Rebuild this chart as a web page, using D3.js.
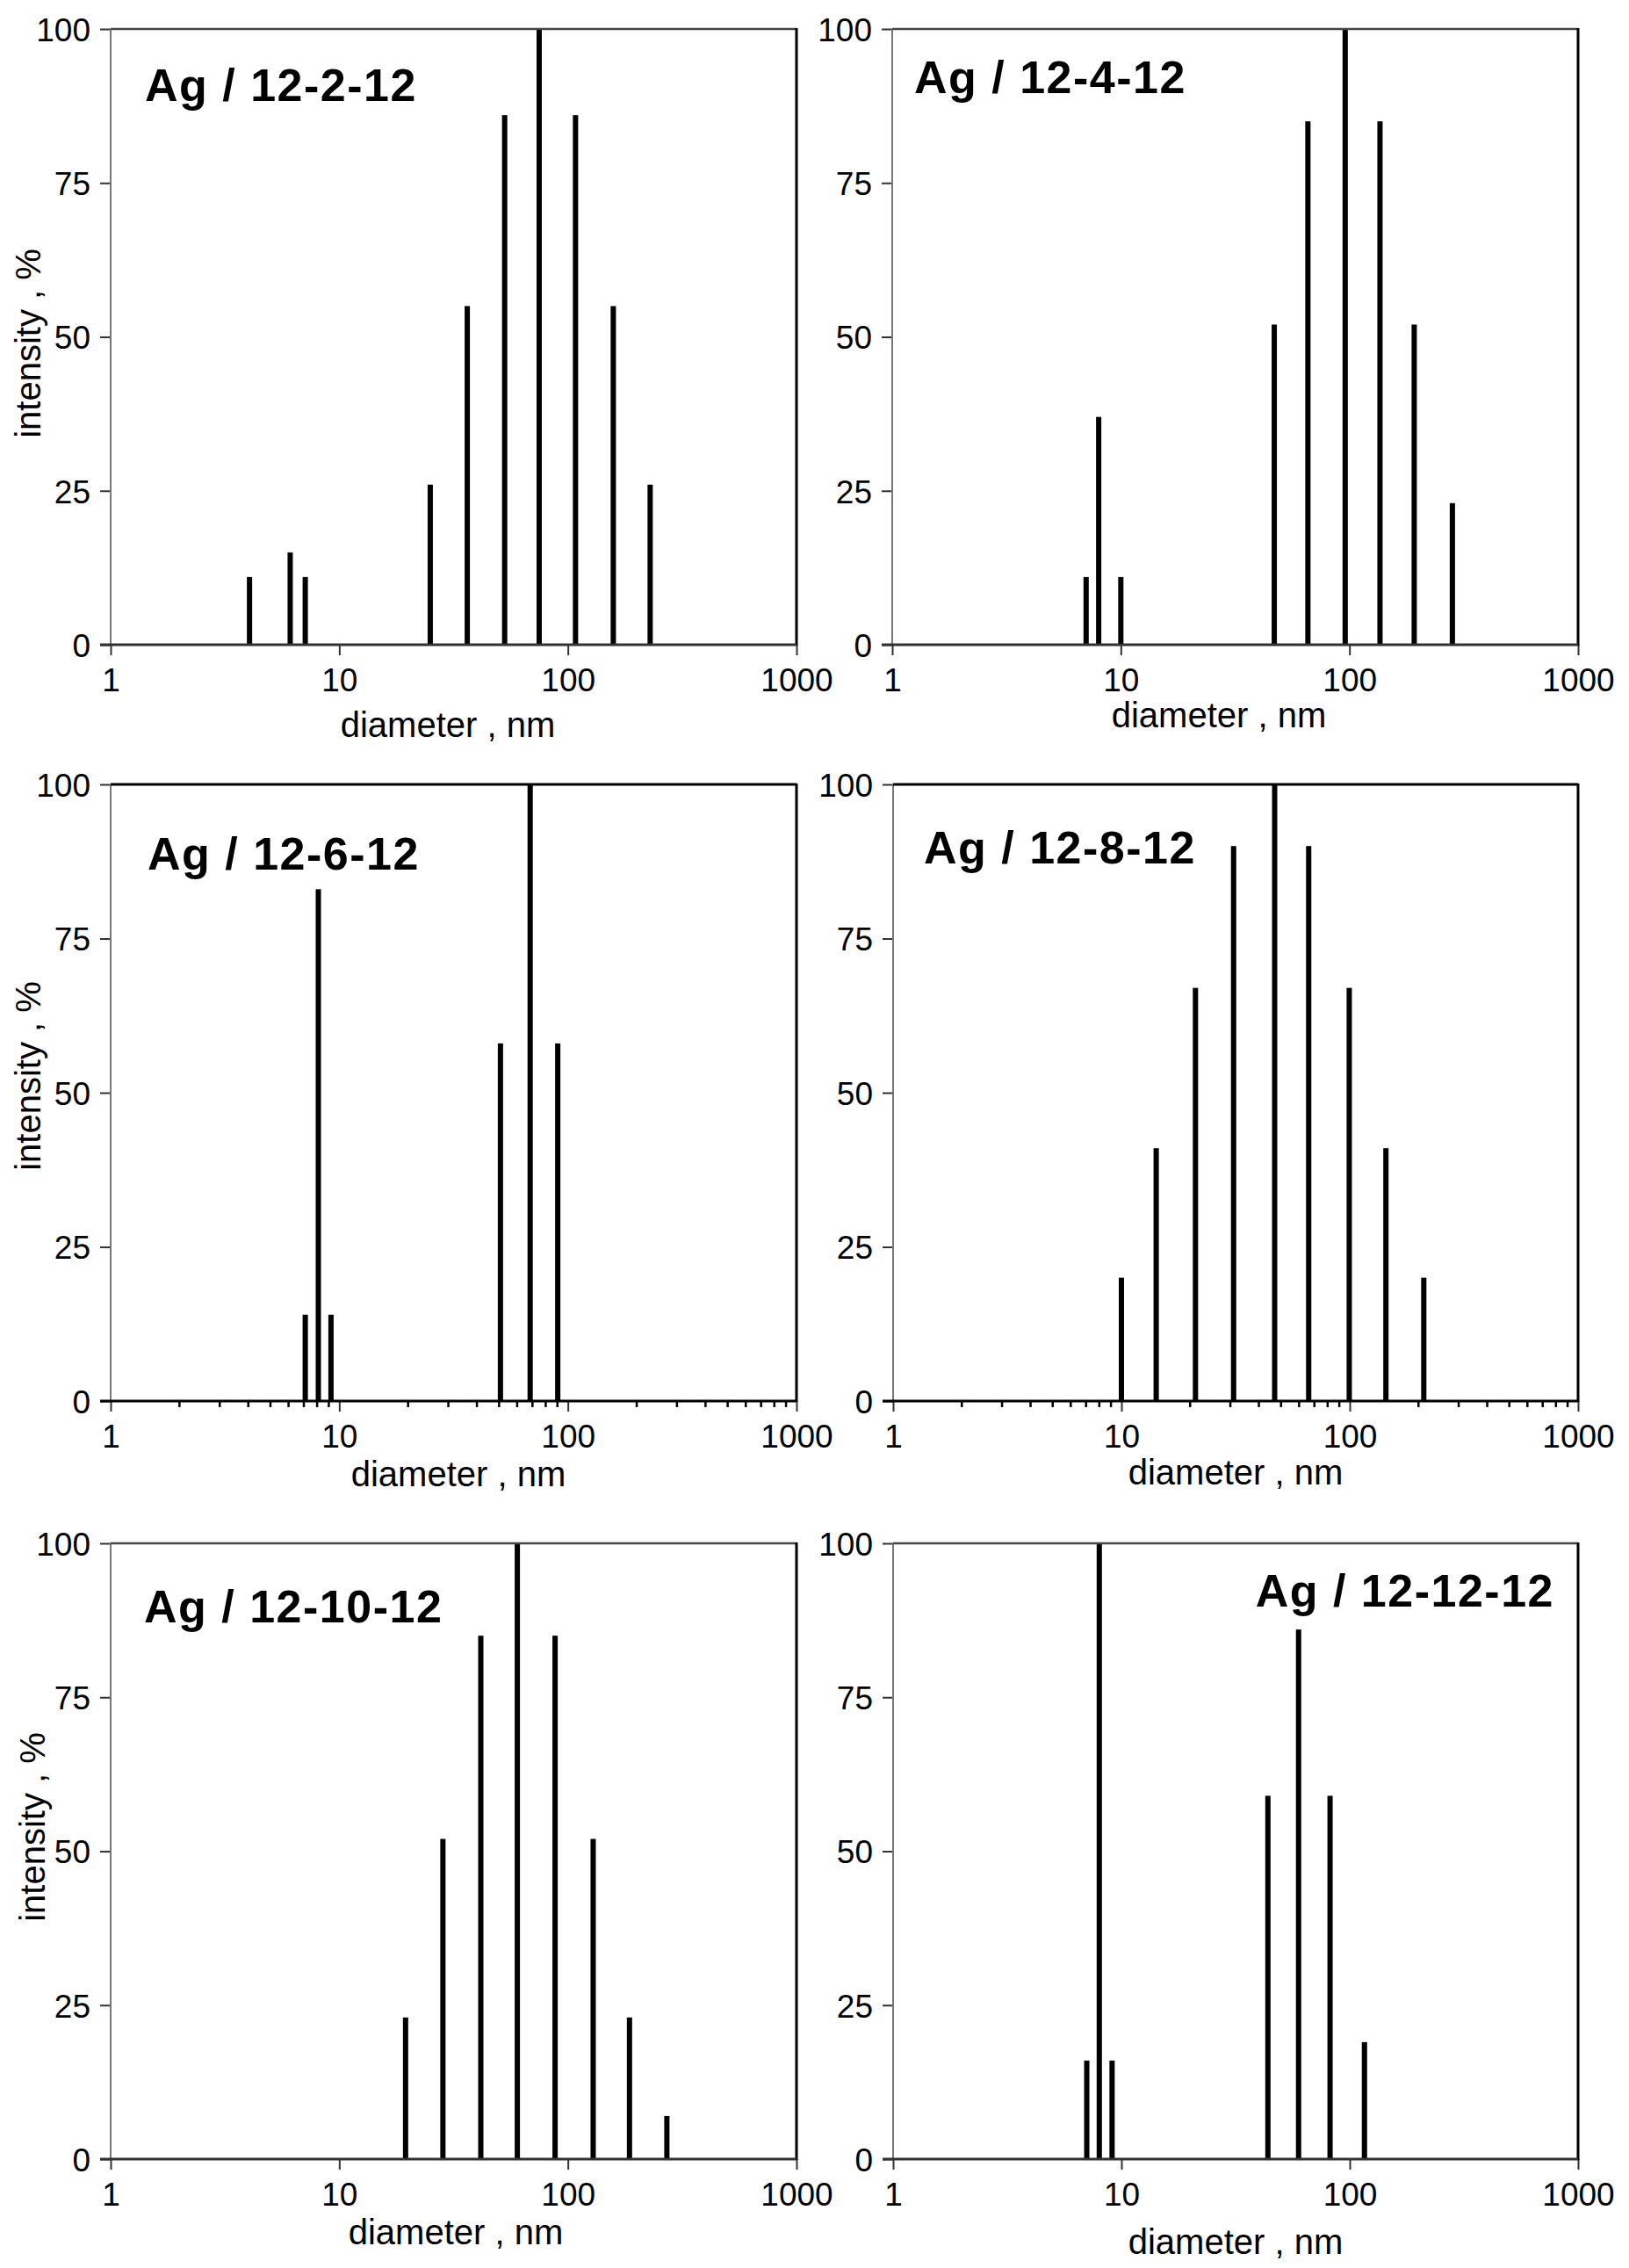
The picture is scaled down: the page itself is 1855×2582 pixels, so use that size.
<!DOCTYPE html>
<html>
<head>
<meta charset="utf-8">
<script src="https://cdn.jsdelivr.net/npm/d3@7"></script>
<style>
	body { margin: 0; background: #fff; }
	text { font-family: "Liberation Sans", Arial, sans-serif; fill: #000; }
</style>
</head>
<body>
<div id="chart-area"></div>
<script>
// Data: diameter (nm) and intensity (%) for each sample
const titles = ["Ag / 12-2-12", "Ag / 12-4-12", "Ag / 12-6-12", "Ag / 12-8-12", "Ag / 12-10-12", "Ag / 12-12-12"]

const diam_12_2_12 = [4.05, 6.1, 7.1, 25, 36.3, 52.9, 74.9, 108, 158, 229]
const int_12_2_12 = [11, 15, 11, 26, 55, 86, 100, 86, 55, 26]

const diam_12_4_12 = [7.05, 8, 10, 46.9, 65.8, 95.8, 136, 192, 282]
const int_12_4_12 = [11, 37, 11, 52, 85, 100, 85, 52, 23]

const diam_12_6_12 = [7.1, 8.1, 9.2, 50.7, 68.4, 90.3]
const int_12_6_12 = [14, 83, 14, 58, 100, 58]

const diam_12_8_12 = [10, 14.2, 21.1, 31, 46.9, 66.1, 99.5, 144, 211]
const int_12_8_12 = [20, 41, 67, 90, 100, 90, 67, 41, 20]

const diam_12_10_12 = [19.5, 28.4, 41.6, 60.1, 87.9, 129, 186, 271]
const int_12_10_12 = [23, 52, 85, 100, 85, 52, 23, 7]

const diam_12_12_12 = [7.05, 8, 9.1, 43.8, 59.7, 82, 116]
const int_12_12_12 = [16, 100, 16, 59, 86, 59, 19]

const xTicks = [1, 10, 100, 1000]
const yTicks = [0, 25, 50, 75, 100]
const xTitle = "diameter , nm"
const yTitle = "intensity , %"

// Layout of the six panels (plot rectangles in page pixels)
const panels = [
	{ diam: diam_12_2_12, int: int_12_2_12, l: 126, r: 907, t: 33, b: 734, tx: 165, ty: 115, anchor: "start", xl: [510, 839], yl: [32, 391], minor: false },
	{ diam: diam_12_4_12, int: int_12_4_12, l: 1016, r: 1797, t: 33, b: 734, tx: 1041, ty: 106, anchor: "start", xl: [1388, 828], yl: null, minor: false },
	{ diam: diam_12_6_12, int: int_12_6_12, l: 126, r: 907, t: 893, b: 1595, tx: 168, ty: 990, anchor: "start", xl: [522, 1692], yl: [32, 1225], minor: true },
	{ diam: diam_12_8_12, int: int_12_8_12, l: 1017, r: 1797, t: 893, b: 1595, tx: 1052, ty: 983, anchor: "start", xl: [1407, 1690], yl: null, minor: true },
	{ diam: diam_12_10_12, int: int_12_10_12, l: 126, r: 907, t: 1757, b: 2458, tx: 164, ty: 1847, anchor: "start", xl: [519, 2555], yl: [37, 2080], minor: false },
	{ diam: diam_12_12_12, int: int_12_12_12, l: 1017, r: 1797, t: 1757, b: 2458, tx: 1770, ty: 1829, anchor: "end", xl: [1407, 2566], yl: null, minor: false }
]

const width = 1855, height = 2582

const svg = d3.select("#chart-area")
	.append("svg")
	.attr("width", width)
	.attr("height", height)

panels.forEach((p, i) => {
	const g = svg.append("g")

	// Scales
	const x = d3.scaleLog().domain([1, 1000]).range([p.l, p.r])
	const y = d3.scaleLinear().domain([0, 100]).range([p.b, p.t])

	// Bars
	const data = p.diam.map((d, j) => ({ d: d, v: p.int[j] }))
	g.selectAll("rect.bar")
		.data(data)
		.enter().append("rect")
		.attr("class", "bar")
		.attr("x", d => x(d.d) - 3)
		.attr("y", d => y(d.v))
		.attr("width", 6)
		.attr("height", d => y(0) - y(d.v))
		.attr("fill", "#000")

	// Axes
	const xAxisCall = d3.axisBottom(x)
		.tickValues(xTicks)
		.tickFormat(d3.format("d"))
		.tickSize(12)
		.tickPadding(15)
	const xAxis = g.append("g")
		.attr("transform", `translate(0, ${p.b})`)
		.call(xAxisCall)

	const yAxisCall = d3.axisLeft(y)
		.tickValues(yTicks)
		.tickSize(12)
		.tickPadding(11)
	const yAxis = g.append("g")
		.attr("transform", `translate(${p.l}, 0)`)
		.call(yAxisCall)

	;[xAxis, yAxis].forEach(a => {
		a.select(".domain").remove()
		a.selectAll(".tick line").attr("stroke", "#333").attr("stroke-width", 2)
		a.selectAll(".tick text")
			.attr("font-size", "37px")
			.attr("font-family", "'Liberation Sans', Arial, sans-serif")
			.attr("fill", "#000")
	})
	yAxis.selectAll(".tick text").attr("dy", "0.36em")

	// minor ticks on the log axis (middle row only)
	if (p.minor) {
		const minors = x.ticks().filter(v => !xTicks.includes(v))
		g.selectAll("line.minor")
			.data(minors)
			.enter().append("line")
			.attr("class", "minor")
			.attr("x1", d => x(d)).attr("x2", d => x(d))
			.attr("y1", p.b).attr("y2", p.b + 7)
			.attr("stroke", "#000")
			.attr("stroke-width", 2.5)
	}

	// Frame
	g.append("line").attr("x1", p.l).attr("x2", p.l).attr("y1", p.t).attr("y2", p.b)
		.attr("stroke", "#777").attr("stroke-width", 2)
	g.append("line").attr("x1", p.l).attr("x2", p.r).attr("y1", p.t).attr("y2", p.t)
		.attr("stroke", p.minor ? "#000" : "#444").attr("stroke-width", p.minor ? 3 : 2.5)
	g.append("line").attr("x1", p.r).attr("x2", p.r).attr("y1", p.t - 1).attr("y2", p.b + 1)
		.attr("stroke", "#000").attr("stroke-width", 3)
	g.append("line").attr("x1", p.l - 12).attr("x2", p.r).attr("y1", p.b).attr("y2", p.b)
		.attr("stroke", p.minor ? "#000" : "#333").attr("stroke-width", 3)

	// Panel title
	g.append("text")
		.attr("x", p.tx)
		.attr("y", p.ty)
		.attr("text-anchor", p.anchor)
		.attr("font-size", "52px")
		.attr("font-weight", "bold")
		.attr("letter-spacing", "1.5px")
		.text(titles[i])

	// Axis titles
	g.append("text")
		.attr("x", p.xl[0])
		.attr("y", p.xl[1])
		.attr("text-anchor", "middle")
		.attr("font-size", "40px")
		.attr("fill", "#222")
		.text(xTitle)

	if (p.yl) {
		g.append("text")
			.attr("transform", `translate(${p.yl[0] + 14}, ${p.yl[1]}) rotate(-90)`)
			.attr("text-anchor", "middle")
			.attr("font-size", "40px")
			.attr("fill", "#222")
			.text(yTitle)
	}
})
</script>
</body>
</html>
